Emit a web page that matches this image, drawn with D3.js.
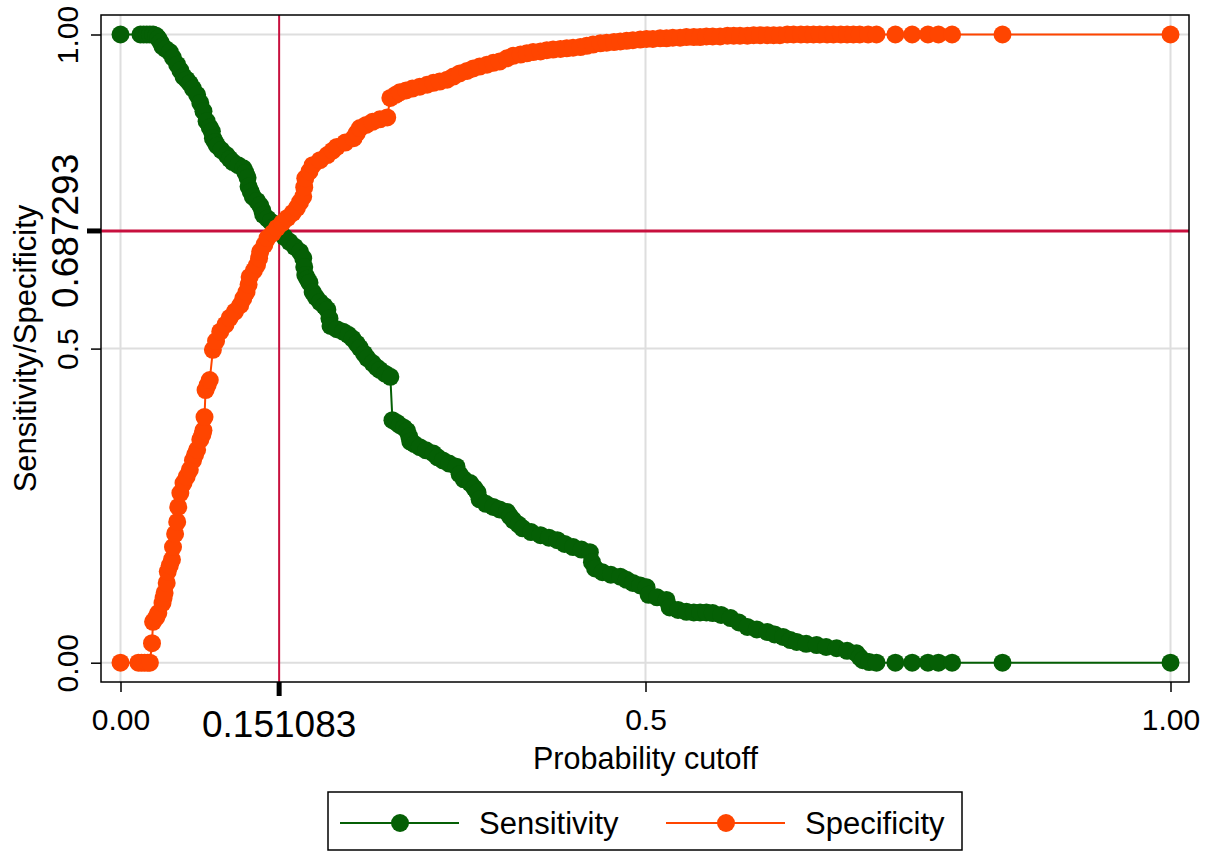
<!DOCTYPE html>
<html>
<head>
<meta charset="utf-8">
<script src="https://cdn.jsdelivr.net/npm/d3@7"></script>
<style>
  body { margin: 0; background: #fff; }
  svg { display: block; font-family: "Liberation Sans", Arial, sans-serif; }
</style>
</head>
<body>
<svg width="1213" height="852"></svg>
<script>
// sensitivity curve: cutoff / value
const sensCut = [0.000, 0.019, 0.022, 0.025, 0.028, 0.031, 0.034, 0.036, 0.038, 0.040, 0.043, 0.047, 0.050,
  0.054, 0.057, 0.060, 0.063, 0.066, 0.069, 0.073, 0.076, 0.079, 0.082, 0.085, 0.087, 0.088, 0.090, 0.092,
  0.096, 0.101, 0.104, 0.107, 0.112, 0.117, 0.119, 0.121, 0.122, 0.124, 0.126, 0.130, 0.133, 0.135, 0.136,
  0.140, 0.143, 0.147, 0.152, 0.156, 0.161, 0.166, 0.171, 0.174, 0.175, 0.176, 0.178, 0.180, 0.183, 0.186,
  0.190, 0.194, 0.197, 0.199, 0.200, 0.206, 0.212, 0.217, 0.221, 0.225, 0.228, 0.232, 0.235, 0.240, 0.244,
  0.247, 0.252, 0.257, 0.259, 0.263, 0.266, 0.270, 0.273, 0.275, 0.276, 0.280, 0.285, 0.291, 0.298, 0.302,
  0.307, 0.313, 0.320, 0.323, 0.327, 0.333, 0.337, 0.340, 0.342, 0.348, 0.355, 0.361, 0.368, 0.371, 0.374,
  0.379, 0.383, 0.391, 0.400, 0.408, 0.416, 0.423, 0.431, 0.439, 0.447, 0.449, 0.452, 0.459, 0.467, 0.476,
  0.482, 0.488, 0.495, 0.501, 0.503, 0.511, 0.520, 0.523, 0.531, 0.539, 0.546, 0.552, 0.558, 0.564, 0.572,
  0.581, 0.589, 0.597, 0.606, 0.616, 0.623, 0.631, 0.638, 0.644, 0.653, 0.663, 0.672, 0.682, 0.692, 0.701,
  0.704, 0.707, 0.713, 0.720, 0.738, 0.754, 0.769, 0.779, 0.792, 0.840, 1.000];
const sensVal = [1.000, 1.000, 1.000, 1.000, 1.000, 1.000, 0.998, 0.994, 0.988, 0.981, 0.977, 0.972, 0.963,
  0.952, 0.943, 0.933, 0.928, 0.922, 0.914, 0.904, 0.891, 0.878, 0.862, 0.852, 0.846, 0.835, 0.829, 0.823,
  0.816, 0.808, 0.802, 0.797, 0.792, 0.787, 0.780, 0.772, 0.758, 0.750, 0.742, 0.735, 0.728, 0.720, 0.713,
  0.707, 0.702, 0.694, 0.686, 0.678, 0.670, 0.662, 0.654, 0.644, 0.630, 0.617, 0.611, 0.605, 0.590, 0.582,
  0.574, 0.568, 0.562, 0.548, 0.536, 0.531, 0.527, 0.522, 0.516, 0.508, 0.501, 0.492, 0.485, 0.477, 0.470,
  0.466, 0.460, 0.455, 0.386, 0.382, 0.378, 0.374, 0.369, 0.360, 0.352, 0.348, 0.343, 0.338, 0.333, 0.327,
  0.322, 0.317, 0.312, 0.300, 0.292, 0.286, 0.278, 0.271, 0.260, 0.253, 0.248, 0.244, 0.240, 0.233, 0.227,
  0.220, 0.214, 0.208, 0.203, 0.199, 0.195, 0.189, 0.184, 0.180, 0.176, 0.160, 0.150, 0.144, 0.140, 0.137,
  0.132, 0.127, 0.123, 0.120, 0.108, 0.104, 0.100, 0.088, 0.084, 0.081, 0.080, 0.080, 0.080, 0.079, 0.076,
  0.071, 0.064, 0.057, 0.053, 0.049, 0.045, 0.041, 0.036, 0.033, 0.030, 0.028, 0.025, 0.023, 0.019, 0.015,
  0.009, 0.004, 0.001, 0.000, 0.000, 0.000, 0.000, 0.000, 0.000, 0.000, 0.000];

// specificity curve: cutoff / value
const specCut = [0.000, 0.017, 0.020, 0.023, 0.026, 0.028, 0.030, 0.031, 0.034, 0.036, 0.040, 0.041, 0.042,
  0.044, 0.045, 0.047, 0.049, 0.050, 0.052, 0.054, 0.055, 0.057, 0.060, 0.063, 0.066, 0.069, 0.071, 0.073,
  0.076, 0.078, 0.079, 0.080, 0.081, 0.083, 0.085, 0.088, 0.091, 0.095, 0.100, 0.104, 0.109, 0.114, 0.117,
  0.120, 0.122, 0.123, 0.127, 0.130, 0.132, 0.133, 0.137, 0.140, 0.145, 0.149, 0.154, 0.159, 0.164, 0.168,
  0.171, 0.174, 0.175, 0.176, 0.180, 0.183, 0.190, 0.197, 0.202, 0.206, 0.214, 0.222, 0.225, 0.228, 0.234,
  0.240, 0.247, 0.254, 0.257, 0.262, 0.266, 0.272, 0.278, 0.285, 0.292, 0.298, 0.304, 0.311, 0.317, 0.323,
  0.330, 0.336, 0.342, 0.349, 0.355, 0.361, 0.368, 0.374, 0.381, 0.387, 0.393, 0.400, 0.406, 0.412, 0.419,
  0.425, 0.431, 0.438, 0.444, 0.450, 0.457, 0.463, 0.470, 0.476, 0.482, 0.488, 0.495, 0.501, 0.507, 0.514,
  0.520, 0.526, 0.533, 0.539, 0.546, 0.552, 0.558, 0.564, 0.571, 0.578, 0.584, 0.590, 0.597, 0.603, 0.609,
  0.616, 0.622, 0.628, 0.635, 0.641, 0.648, 0.654, 0.660, 0.666, 0.673, 0.679, 0.686, 0.692, 0.698, 0.704,
  0.712, 0.720, 0.738, 0.754, 0.769, 0.779, 0.792, 0.840, 1.000];
const specVal = [0.000, 0.000, 0.000, 0.000, 0.000, 0.000, 0.031, 0.065, 0.072, 0.079, 0.095, 0.103, 0.111,
  0.127, 0.145, 0.155, 0.164, 0.184, 0.205, 0.224, 0.248, 0.270, 0.286, 0.296, 0.307, 0.322, 0.331, 0.339,
  0.355, 0.363, 0.370, 0.391, 0.434, 0.442, 0.450, 0.498, 0.512, 0.527, 0.538, 0.549, 0.559, 0.569, 0.580,
  0.590, 0.602, 0.614, 0.624, 0.633, 0.644, 0.654, 0.665, 0.676, 0.684, 0.692, 0.700, 0.708, 0.716, 0.724,
  0.733, 0.742, 0.757, 0.771, 0.782, 0.792, 0.800, 0.808, 0.815, 0.821, 0.828, 0.835, 0.843, 0.851, 0.856,
  0.861, 0.865, 0.868, 0.899, 0.904, 0.908, 0.911, 0.914, 0.917, 0.920, 0.923, 0.925, 0.928, 0.933, 0.938,
  0.942, 0.946, 0.949, 0.952, 0.955, 0.957, 0.962, 0.966, 0.968, 0.970, 0.972, 0.973, 0.975, 0.976, 0.977,
  0.978, 0.979, 0.980, 0.982, 0.984, 0.986, 0.987, 0.988, 0.989, 0.990, 0.991, 0.992, 0.993, 0.993, 0.994,
  0.994, 0.995, 0.995, 0.996, 0.996, 0.996, 0.997, 0.997, 0.997, 0.998, 0.998, 0.998, 0.998, 0.999, 0.999,
  0.999, 0.999, 0.999, 1.000, 1.000, 1.000, 1.000, 1.000, 1.000, 1.000, 1.000, 1.000, 1.000, 1.000, 1.000,
  1.000, 1.000, 1.000, 1.000, 1.000, 1.000, 1.000, 1.000, 1.000];

const xTicks = [0, 0.5, 1];
const xTickLabels = ["0.00", "0.5", "1.00"];
const yTicks = [0, 0.5, 1];
const yTickLabels = ["0.00", "0.5", "1.00"];
const cutoff = 0.151083;
const crossVal = 0.687293;
const seriesNames = ["Sensitivity", "Specificity"];
const seriesColors = ["#055f05", "#ff4500"];

const svg = d3.select("svg");
const frame = { left: 101, top: 15, right: 1189, bottom: 682 };

const x = d3.scaleLinear().domain([0, 1]).range([120.5, 1170.5]);
const y = d3.scaleLinear().domain([0, 1]).range([662.7, 34.5]);

// gridlines
svg.append("g")
  .selectAll("line")
  .data(xTicks)
  .enter()
  .append("line")
  .attr("x1", d => x(d)).attr("x2", d => x(d))
  .attr("y1", frame.top).attr("y2", frame.bottom)
  .style("stroke", "#dedede").style("stroke-width", 2);

svg.append("g")
  .selectAll("line")
  .data(yTicks)
  .enter()
  .append("line")
  .attr("x1", frame.left).attr("x2", frame.right)
  .attr("y1", d => y(d)).attr("y2", d => y(d))
  .style("stroke", "#dedede").style("stroke-width", 2);

// reference lines
svg.append("line")
  .attr("x1", frame.left).attr("x2", frame.right)
  .attr("y1", y(crossVal)).attr("y2", y(crossVal))
  .style("stroke", "#c8103e").style("stroke-width", 3);

svg.append("line")
  .attr("x1", x(cutoff)).attr("x2", x(cutoff))
  .attr("y1", frame.top).attr("y2", frame.bottom)
  .style("stroke", "#c8103e").style("stroke-width", 2);

// series
const series = [
  { name: seriesNames[0], color: seriesColors[0], pts: sensCut.map((c, i) => [c, sensVal[i]]) },
  { name: seriesNames[1], color: seriesColors[1], pts: specCut.map((c, i) => [c, specVal[i]]) }
];

const lineGenerator = d3.line().x(d => x(d[0])).y(d => y(d[1]));

series.forEach(s => {
  const g = svg.append("g").attr("class", "series");
  g.append("path")
    .datum(s.pts)
    .attr("d", lineGenerator)
    .style("fill", "none")
    .style("stroke", s.color)
    .style("stroke-width", 2);
  g.selectAll("circle")
    .data(s.pts)
    .enter()
    .append("circle")
    .attr("cx", d => x(d[0]))
    .attr("cy", d => y(d[1]))
    .attr("r", 9)
    .style("fill", s.color);
});

// frame
svg.append("rect")
  .attr("x", frame.left).attr("y", frame.top)
  .attr("width", frame.right - frame.left).attr("height", frame.bottom - frame.top)
  .style("fill", "none").style("stroke", "#000").style("stroke-width", 1.5);

// axes
const xAxis = svg.append("g")
  .attr("transform", `translate(0, ${frame.bottom})`)
  .call(d3.axisBottom(x).tickValues(xTicks).tickFormat((d, i) => xTickLabels[i]).tickSize(10).tickPadding(17));
xAxis.select(".domain").remove();
xAxis.selectAll("text").style("font-size", "30px").style("fill", "#000")
  .style("font-family", "'Liberation Sans', Arial, sans-serif");
xAxis.selectAll("line").style("stroke", "#000").style("stroke-width", 1.5);

const yAxis = svg.append("g")
  .attr("transform", `translate(${frame.left}, 0)`)
  .call(d3.axisLeft(y).tickValues(yTicks).tickFormat((d, i) => yTickLabels[i]).tickSize(10));
yAxis.select(".domain").remove();
yAxis.selectAll("text")
  .attr("transform", "rotate(-90)")
  .attr("x", 0).attr("y", -23).attr("dy", 0)
  .style("text-anchor", "middle")
  .style("font-size", "30px").style("fill", "#000")
  .style("font-family", "'Liberation Sans', Arial, sans-serif");
yAxis.selectAll("line").style("stroke", "#000").style("stroke-width", 1.5);

// added reference ticks + labels
svg.append("line")
  .attr("x1", x(cutoff)).attr("x2", x(cutoff))
  .attr("y1", frame.bottom).attr("y2", frame.bottom + 14)
  .style("stroke", "#000").style("stroke-width", 5);
svg.append("text")
  .attr("x", x(cutoff)).attr("y", 737)
  .attr("text-anchor", "middle")
  .style("font-size", "37px")
  .text(String(cutoff));

svg.append("line")
  .attr("x1", frame.left - 14).attr("x2", frame.left)
  .attr("y1", y(crossVal)).attr("y2", y(crossVal))
  .style("stroke", "#000").style("stroke-width", 5);
svg.append("text")
  .attr("transform", `translate(78, ${y(crossVal)}) rotate(-90)`)
  .attr("text-anchor", "middle")
  .style("font-size", "37px")
  .text(String(crossVal));

// axis titles
svg.append("text")
  .attr("x", x(0.5)).attr("y", 769)
  .attr("text-anchor", "middle")
  .style("font-size", "30.5px")
  .text("Probability cutoff");

svg.append("text")
  .attr("transform", `translate(36, ${(frame.top + frame.bottom) / 2}) rotate(-90)`)
  .attr("text-anchor", "middle")
  .style("font-size", "31px")
  .text("Sensitivity/Specificity");

// legend
const legend = svg.append("g");
legend.append("rect")
  .attr("x", 328).attr("y", 792).attr("width", 634).attr("height", 58)
  .style("fill", "#fff").style("stroke", "#000").style("stroke-width", 1.5);

const legendItems = legend.selectAll("g.item")
  .data(series)
  .enter()
  .append("g")
  .attr("class", "item")
  .attr("transform", (d, i) => `translate(${340 + i * 326}, 823)`);

legendItems.append("line")
  .attr("x1", 0).attr("x2", 119)
  .style("stroke", d => d.color).style("stroke-width", 2);
legendItems.append("circle")
  .attr("cx", 60).attr("r", 9)
  .style("fill", d => d.color);
legendItems.append("text")
  .attr("x", 139).attr("y", 11)
  .style("font-size", "31px")
  .text(d => d.name);
</script>
</body>
</html>
